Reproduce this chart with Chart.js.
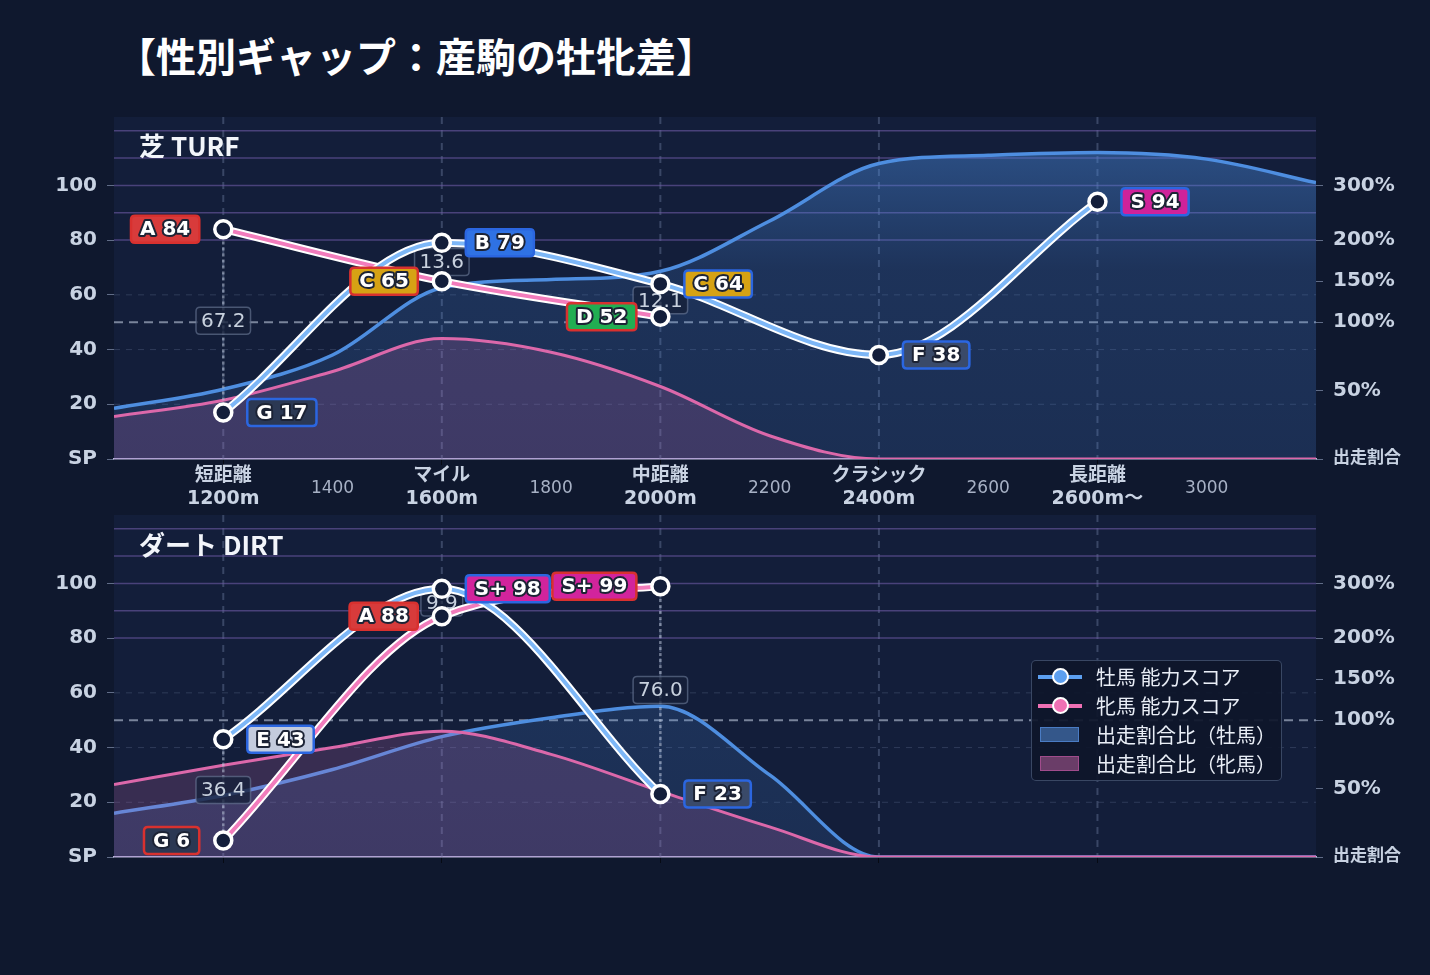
<!DOCTYPE html>
<html lang="ja">
<head>
<meta charset="utf-8">
<title>性別ギャップ：産駒の牡牝差</title>
<script src="https://cdn.jsdelivr.net/npm/chart.js@4.4.1/dist/chart.umd.min.js"></script>
<style>
  html, body { margin: 0; padding: 0; background: #0f182e; }
  body { width: 1430px; height: 975px; position: relative; overflow: hidden;
         font-family: "Noto Sans CJK JP", "DejaVu Sans", sans-serif; }
  #title { position: absolute; left: 116px; top: 30px; font-size: 40px; line-height: 50px;
           font-weight: 700; color: #ffffff; white-space: nowrap; }
  .panel { position: absolute; left: 0; width: 1430px; }
  #turfPanel { top: 100px; height: 412px; }
  #dirtPanel { top: 512px; height: 368px; }
  .section { position: absolute; left: 139px; font-size: 26px; line-height: 30px; font-weight: 700;
             color: #f2f5fa; white-space: nowrap; }
  #legend { position: absolute; left: 1031px; top: 660px; width: 251px; height: 121px; box-sizing: border-box;
            border: 1.5px solid rgba(62, 76, 106, 0.9); border-radius: 5px; background: rgba(14, 22, 42, 0.92);
            padding: 1px 0 0 6px; }
  #legend .row { display: flex; align-items: center; height: 29px; font-size: 20px; color: #e9eef6; white-space: nowrap; }
  #legend .ico { position: relative; width: 44px; height: 20px; margin-right: 14px; flex: none; }
  #legend .ico.line::before { content: ""; position: absolute; left: 0; right: 0; top: 8px; height: 4px; }
  #legend .ico.line i { position: absolute; left: 14px; top: 1px; width: 13px; height: 13px; border-radius: 50%;
                        border: 2.5px solid #ffffff; }
  #legend .ico.male::before, #legend .ico.male i { background: #5c9ff0; }
  #legend .ico.female::before, #legend .ico.female i { background: #f070b4; }
  #legend .ico.box i { position: absolute; left: 2px; top: 2px; width: 37px; height: 13px; }
  #legend .ico.box.male i { background: #34578a; border: 1.5px solid #4a7cc4; }
  #legend .ico.box.female i { background: #6a3d68; border: 1.5px solid #a04c8c; }
</style>
</head>
<body>
<div id="title">【性別ギャップ：産駒の牡牝差】</div>

<div class="panel" id="turfPanel"><canvas id="turfChart" width="1430" height="412"></canvas></div>
<div class="panel" id="dirtPanel"><canvas id="dirtChart" width="1430" height="368"></canvas></div>

<div class="section" style="top:130px">芝 TURF</div>
<div class="section" style="top:529px">ダート DIRT</div>

<div id="legend">
  <div class="row"><span class="ico line male"><i></i></span>牡馬 能力スコア</div>
  <div class="row"><span class="ico line female"><i></i></span>牝馬 能力スコア</div>
  <div class="row"><span class="ico box male"><i></i></span>出走割合比（牡馬）</div>
  <div class="row"><span class="ico box female"><i></i></span>出走割合比（牝馬）</div>
</div>

<script>
// 距離軸
const distanceSteps = [1000, 1200, 1400, 1600, 1800, 2000, 2200, 2400, 2600, 2800, 3000, 3200];
const distanceLabels = ["", ["短距離", "1200m"], "1400", ["マイル", "1600m"], "1800", ["中距離", "2000m"],
                        "2200", ["クラシック", "2400m"], "2600", ["長距離", "2600m〜"], "3000", ""];
const categoryDistances = [1200, 1600, 2000, 2400, 2800];

// 能力スコア（カテゴリ別）
const turfMaleScore = [17, 79, 64, 38, 94];
const turfFemaleScore = [84, 65, 52, null, null];
const turfScoreGap = [67.2, 13.6, 12.1, null, null];
const dirtMaleScore = [43, 98, 23, null, null];
const dirtFemaleScore = [6, 88, 99, null, null];
const dirtScoreGap = [36.4, 9.9, 76.0, null, null];

// 出走割合比（%、distanceSteps ごと）
const turfShareMale = [37, 51, 76, 142, 152, 162, 235, 340, 355, 360, 348, 305];
const turfShareFemale = [31, 43, 64, 88, 78, 53, 17, 0, 0, 0, 0, 0];
const dirtShareMale = [32, 45, 64, 88, 103, 117, 60, 0, 0, 0, 0, 0];
const dirtShareFemale = [53, 67, 80, 92, 75, 48, 22, 0, 0, 0, 0, 0];

// 軸目盛り
const scoreTicks = [0, 20, 40, 60, 80, 100];
const shareTicks = [0, 50, 100, 150, 200, 300];

const FONT = '"DejaVu Sans", "Noto Sans CJK JP", sans-serif';

// 割合(%) を左軸のスコア座標に変換
function shareToAxis(p) {
    if (p <= 100) return p / 2;
    if (p <= 200) return 50 + (p - 100) * 0.3;
    return 80 + (p - 200) * 0.2;
}

function grade(v) {
    if (v >= 95) return "S+";
    if (v >= 90) return "S";
    if (v >= 80) return "A";
    if (v >= 70) return "B";
    if (v >= 60) return "C";
    if (v >= 50) return "D";
    if (v >= 40) return "E";
    if (v >= 20) return "F";
    return "G";
}

const gradeColors = {
    "S+": "#d2249c", "S": "#cf229a", "A": "#d83b3b", "B": "#2f72e4", "C": "#d6a214",
    "D": "#22ae52", "E": "#c3cbdd", "F": "#3a4a69", "G": "#2b3853"
};

function roundRect(ctx, x, y, w, h, r) {
    ctx.beginPath();
    ctx.moveTo(x + r, y);
    ctx.lineTo(x + w - r, y);
    ctx.quadraticCurveTo(x + w, y, x + w, y + r);
    ctx.lineTo(x + w, y + h - r);
    ctx.quadraticCurveTo(x + w, y + h, x + w - r, y + h);
    ctx.lineTo(x + r, y + h);
    ctx.quadraticCurveTo(x, y + h, x, y + h - r);
    ctx.lineTo(x, y + r);
    ctx.quadraticCurveTo(x, y, x + r, y);
    ctx.closePath();
}

// グレード付きラベル
function drawTag(ctx, value, px, py, side, borderColor) {
    const g = grade(value);
    const text = g + " " + value;
    ctx.save();
    ctx.font = "bold 20px " + FONT;
    const w = ctx.measureText(text).width + 18;
    const h = 27;
    const left = side === "right" ? px + 24 : px - 24 - w;
    roundRect(ctx, left, py - h / 2, w, h, 4);
    ctx.fillStyle = gradeColors[g];
    ctx.fill();
    ctx.lineWidth = 2.5;
    ctx.strokeStyle = borderColor;
    ctx.stroke();
    ctx.textAlign = "center";
    ctx.textBaseline = "middle";
    ctx.lineJoin = "round";
    ctx.lineWidth = 4;
    ctx.strokeStyle = "#1c2335";
    ctx.strokeText(text, left + w / 2, py + 1);
    ctx.fillStyle = "#ffffff";
    ctx.fillText(text, left + w / 2, py + 1);
    ctx.restore();
}

function buildChart(canvasId, cfg) {
    const toPoints = (xs, ys, f) => xs.map((x, i) => ({ x: x, y: ys[i] == null ? null : (f ? f(ys[i]) : ys[i]) }));

    const decor = {
        id: "panelDecor",
        beforeDraw(chart) {
            const { ctx, chartArea: a } = chart;
            ctx.save();
            ctx.fillStyle = "#131e3a";
            ctx.fillRect(a.left, a.top, a.right - a.left, a.bottom - a.top);
            ctx.restore();
        },
        beforeDatasetsDraw(chart) {
            const { ctx, chartArea: a } = chart;
            const xs = chart.scales.x, ys = chart.scales.y;
            const hline = (v, color, width, dash) => {
                const py = ys.getPixelForValue(v);
                ctx.setLineDash(dash);
                ctx.strokeStyle = color;
                ctx.lineWidth = width;
                ctx.beginPath();
                ctx.moveTo(a.left, py);
                ctx.lineTo(a.right, py);
                ctx.stroke();
            };
            ctx.save();
            // 縦のカテゴリ線
            ctx.setLineDash([7, 6]);
            ctx.lineWidth = 2;
            ctx.strokeStyle = "rgba(105,120,155,0.45)";
            categoryDistances.forEach(d => {
                const px = xs.getPixelForValue(d);
                ctx.beginPath();
                ctx.moveTo(px, a.top);
                ctx.lineTo(px, a.bottom);
                ctx.stroke();
            });
            [20, 40, 60].forEach(v => hline(v, "rgba(110,125,160,0.3)", 1, [6, 6]));
            [80, 90, 100, 110, 120].forEach(v => hline(v, "rgba(110,90,165,0.6)", 1.5, []));
            hline(50, "rgba(190,200,220,0.6)", 2, [9, 6]);
            ctx.restore();
        },
        afterDatasetDraw(chart, args) {
            if (args.index !== 1) return;
            // 牡牝差ラベル
            const { ctx } = chart;
            const xs = chart.scales.x, ys = chart.scales.y;
            ctx.save();
            categoryDistances.forEach((d, i) => {
                const m = cfg.male[i], f = cfg.female[i];
                if (m == null || f == null || cfg.gap[i] == null) return;
                const px = xs.getPixelForValue(d);
                ctx.setLineDash([3, 3]);
                ctx.lineWidth = 2.5;
                ctx.strokeStyle = "rgba(190,200,220,0.55)";
                ctx.beginPath();
                ctx.moveTo(px, ys.getPixelForValue(m));
                ctx.lineTo(px, ys.getPixelForValue(f));
                ctx.stroke();
                ctx.setLineDash([]);
                const text = cfg.gap[i].toFixed(1);
                const py = ys.getPixelForValue((m + f) / 2);
                ctx.font = "20px " + FONT;
                const w = ctx.measureText(text).width + 10, h = 27;
                roundRect(ctx, px - w / 2, py - h / 2, w, h, 4);
                ctx.fillStyle = "rgba(22,32,58,0.78)";
                ctx.fill();
                ctx.lineWidth = 1.5;
                ctx.strokeStyle = "rgba(110,125,155,0.6)";
                ctx.stroke();
                ctx.fillStyle = "#c8d1de";
                ctx.textAlign = "center";
                ctx.textBaseline = "middle";
                ctx.fillText(text, px, py + 1);
            });
            ctx.restore();
        },
        afterDatasetsDraw(chart) {
            const { ctx } = chart;
            const fMeta = chart.getDatasetMeta(3), mMeta = chart.getDatasetMeta(5);
            cfg.female.forEach((v, i) => {
                if (v == null) return;
                drawTag(ctx, v, fMeta.data[i].x, fMeta.data[i].y, "left", "#d8312f");
            });
            cfg.male.forEach((v, i) => {
                if (v == null) return;
                drawTag(ctx, v, mMeta.data[i].x, mMeta.data[i].y, "right", "#2b66e0");
            });
        }
    };

    const blueFill = (c) => {
        const a = c.chart.chartArea;
        if (!a) return "rgba(74,140,225,0.2)";
        const g = c.chart.ctx.createLinearGradient(0, a.top, 0, a.bottom);
        g.addColorStop(0, "rgba(74,140,225,0.5)");
        g.addColorStop(0.45, "rgba(74,140,225,0.19)");
        g.addColorStop(1, "rgba(74,140,225,0.15)");
        return g;
    };

    const isCat = c => !!(c && c.tick && categoryDistances.includes(c.tick.value));

    const fitY = s => { s.width = 114; s.paddingTop = 0; s.paddingBottom = 0; };

    return new Chart(document.getElementById(canvasId), {
        type: "line",
        data: {
            datasets: [
                {
                    label: "出走割合比（牡馬）",
                    data: toPoints(distanceSteps, cfg.shareMale, shareToAxis),
                    borderColor: "#4e8ee0", borderWidth: 3.5, backgroundColor: blueFill,
                    fill: "origin", pointRadius: 0, cubicInterpolationMode: "monotone", order: 9
                },
                {
                    label: "出走割合比（牝馬）",
                    data: toPoints(distanceSteps, cfg.shareFemale, shareToAxis),
                    borderColor: "#dc68aa", borderWidth: 3, backgroundColor: "rgba(205,105,175,0.2)",
                    fill: "origin", pointRadius: 0, cubicInterpolationMode: "monotone", order: 8
                },
                {
                    label: "牝馬 outline",
                    data: toPoints(categoryDistances, cfg.female),
                    borderColor: "#ffffff", borderWidth: 8, pointRadius: 0, fill: false,
                    cubicInterpolationMode: "monotone", order: 7
                },
                {
                    label: "牝馬 能力スコア",
                    data: toPoints(categoryDistances, cfg.female),
                    borderColor: "#f27cbc", borderWidth: 4, fill: false,
                    pointRadius: 8.5, pointBorderWidth: 3.5, pointBorderColor: "#ffffff",
                    pointBackgroundColor: "#131e3a", cubicInterpolationMode: "monotone", order: 6
                },
                {
                    label: "牡馬 outline",
                    data: toPoints(categoryDistances, cfg.male),
                    borderColor: "#ffffff", borderWidth: 8, pointRadius: 0, fill: false,
                    cubicInterpolationMode: "monotone", order: 5
                },
                {
                    label: "牡馬 能力スコア",
                    data: toPoints(categoryDistances, cfg.male),
                    borderColor: "#7db7f7", borderWidth: 4, fill: false,
                    pointRadius: 8.5, pointBorderWidth: 3.5, pointBorderColor: "#ffffff",
                    pointBackgroundColor: "#131e3a", cubicInterpolationMode: "monotone", order: 4
                }
            ]
        },
        options: {
            responsive: false,
            animation: false,
            events: [],
            layout: { autoPadding: false, padding: { top: cfg.padTop, left: 0, right: 0, bottom: 0 } },
            plugins: { legend: { display: false }, tooltip: { enabled: false } },
            scales: {
                x: {
                    type: "linear", min: 1000, max: 3200,
                    afterBuildTicks: s => { s.ticks = distanceSteps.map(v => ({ value: v })); },
                    afterFit: s => { s.height = cfg.xHeight; s.paddingLeft = 0; s.paddingRight = 0; },
                    ticks: {
                        display: cfg.showXLabels, autoSkip: false, maxRotation: 0, minRotation: 0,
                        crossAlign: "center", padding: 11,
                        callback: (v, i) => distanceLabels[i],
                        color: c => isCat(c) ? "#c9d3e3" : "#a7b1c5",
                        font: c => isCat(c)
                            ? { family: FONT, size: 19, weight: "bold", lineHeight: 1.2 }
                            : { family: FONT, size: 17, weight: "normal", lineHeight: 1.2 }
                    },
                    grid: {
                        drawOnChartArea: false, tickLength: 6,
                        color: c => isCat(c) ? "rgba(0,0,0,0.55)" : "rgba(0,0,0,0)"
                    },
                    border: { display: true, color: "#b9b5da", width: 1.5 }
                },
                y: {
                    position: "left", min: 0, max: 125,
                    afterBuildTicks: s => { s.ticks = scoreTicks.map(v => ({ value: v })); },
                    afterFit: fitY,
                    ticks: {
                        autoSkip: false, padding: 10, color: "#c8d2e2",
                        font: { family: FONT, size: 20, weight: "bold" },
                        callback: v => v === 0 ? "SP" : v
                    },
                    grid: { drawOnChartArea: false, tickLength: 7, color: "rgba(150,165,195,0.6)" },
                    border: { display: false }
                },
                y2: {
                    position: "right", min: 0, max: 125,
                    afterBuildTicks: s => { s.ticks = shareTicks.map(p => ({ value: shareToAxis(p) })); },
                    afterFit: fitY,
                    ticks: {
                        autoSkip: false, padding: 10, color: "#c8d2e2",
                        font: c => ({ family: FONT, size: (c && c.index === 0) ? 17 : 20, weight: "bold" }),
                        callback: (v, i) => shareTicks[i] === 0 ? "出走割合" : shareTicks[i] + "%"
                    },
                    grid: { drawOnChartArea: false, tickLength: 7, color: "rgba(150,165,195,0.6)" },
                    border: { display: false }
                }
            }
        },
        plugins: [decor]
    });
}

buildChart("turfChart", {
    male: turfMaleScore, female: turfFemaleScore, gap: turfScoreGap,
    shareMale: turfShareMale, shareFemale: turfShareFemale,
    showXLabels: true, xHeight: 53, padTop: 17
});

buildChart("dirtChart", {
    male: dirtMaleScore, female: dirtFemaleScore, gap: dirtScoreGap,
    shareMale: dirtShareMale, shareFemale: dirtShareFemale,
    showXLabels: false, xHeight: 23, padTop: 3
});
</script>
</body>
</html>
